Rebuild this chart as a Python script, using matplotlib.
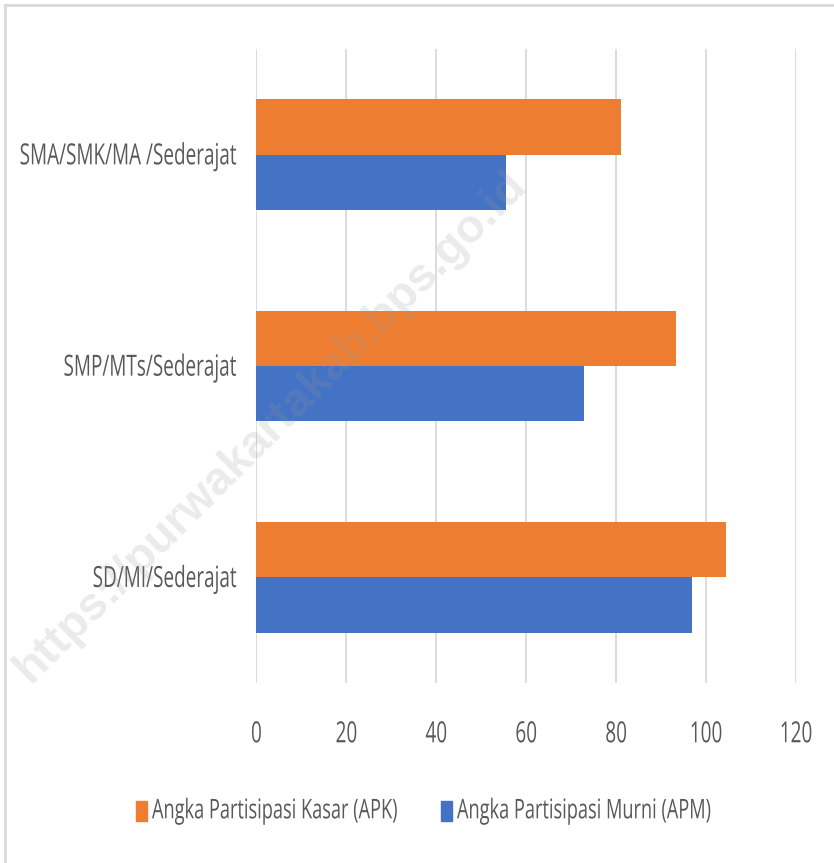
import matplotlib
matplotlib.use("Agg")
import matplotlib.pyplot as plt
import numpy as np
from matplotlib.patches import Rectangle
from matplotlib.lines import Line2D
from matplotlib.patheffects import AbstractPathEffect
from matplotlib.transforms import Affine2D

# data (Angka Partisipasi per jenjang)
kategori = ["SD/MI/Sederajat", "SMP/MTs/Sederajat", "SMA/SMK/MA /Sederajat"]
apk = [104.4, 93.3, 81.0]
apm = [96.8, 72.8, 55.4]
label_apk = "Angka Partisipasi Kasar (APK)"
label_apm = "Angka Partisipasi Murni (APM)"
xticks = [0, 20, 40, 60, 80, 100, 120]

oranye = "#ED7D31"
biru = "#4472C4"
abu = "#595959"


# huruf tinggi-sempit (seperti Calibri di gambar asli): regangkan vertikal
class Regang(AbstractPathEffect):
    def __init__(self, sy=1.5):
        super().__init__()
        self.sy = sy

    def draw_path(self, renderer, gc, tpath, affine, rgbFace=None):
        ext = tpath.get_extents()
        y0 = (ext.y0 + ext.y1) / 2
        t = Affine2D().translate(0, -y0).scale(1, self.sy).translate(0, y0) + affine
        renderer.draw_path(gc, tpath, t, rgbFace)


plt.rcParams["font.family"] = ["Open Sans", "DejaVu Sans"]

fig = plt.figure(figsize=(8.34, 8.63), dpi=100)
ax = fig.add_axes([0.3075, 0.2086, 0.647, 0.7346])

y = np.arange(len(kategori))
tinggi = 0.2625
ax.barh(y + tinggi / 2, apk, height=tinggi, color=oranye, zorder=3)
ax.barh(y - tinggi / 2, apm, height=tinggi, color=biru, zorder=3)

ax.set_xlim(0, 120)
ax.set_ylim(-0.5, 2.5)
ax.set_xticks(xticks)
ax.set_xticklabels([str(t) for t in xticks])
ax.set_yticks(y)
ax.set_yticklabels(kategori)
ax.tick_params(axis="both", length=0, colors=abu, labelsize=13.65)
ax.tick_params(axis="x", pad=30)
ax.tick_params(axis="y", pad=14)
ax.grid(axis="x", color="#d9d9d9", linewidth=1.3, zorder=0)
for s in ax.spines.values():
    s.set_visible(False)
for t in ax.get_yticklabels() + ax.get_xticklabels():
    t.set_path_effects([Regang(1 / 0.65)])

# legenda manual (kotak + teks)
for x_kotak, warna, teks in [(136, oranye, label_apk), (441, biru, label_apm)]:
    fig.patches.append(Rectangle((x_kotak / 834, 1 - 821 / 863), 11 / 834, 20 / 863,
                                 transform=fig.transFigure, color=warna))
    fig.text((x_kotak + 16) / 834, 1 - 811 / 863, teks, fontsize=13.1, color=abu,
             ha="left", va="center", path_effects=[Regang(1 / 0.67)])

# bingkai chart (atas dan kiri)
fig.lines.append(Line2D([5 / 834, 5 / 834], [0, 1 - 5 / 863], transform=fig.transFigure,
                        color="#d9d9d9", linewidth=2))
fig.lines.append(Line2D([5 / 834, 1], [1 - 5 / 863, 1 - 5 / 863], transform=fig.transFigure,
                        color="#d9d9d9", linewidth=2))

# watermark
fig.text(0.325, 0.505, "https://purwakartakab.bps.go.id", rotation=45, fontsize=33.5,
         fontweight="bold", color="#9a9a9a", alpha=0.2, ha="center", va="center",
         family="Liberation Sans", zorder=10)

fig.savefig("out.png", dpi=100)
